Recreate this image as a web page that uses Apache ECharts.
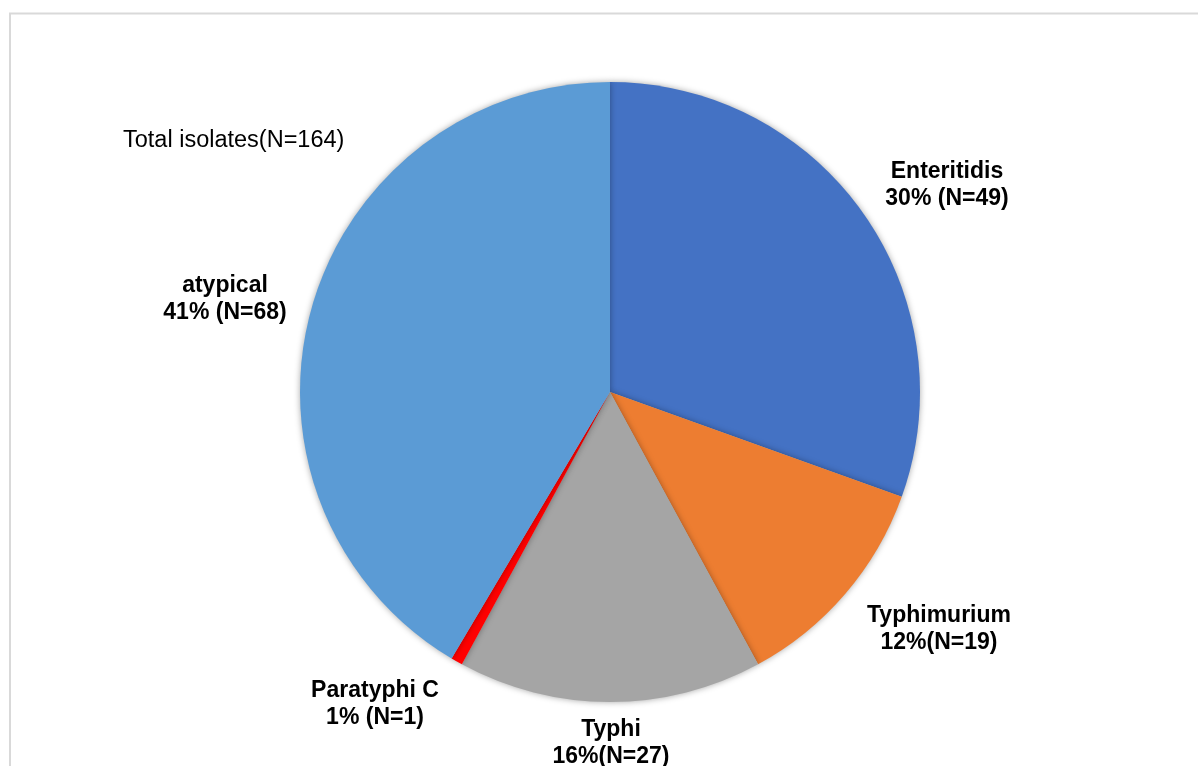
<!DOCTYPE html>
<html>
<head>
<meta charset="utf-8">
<script src="https://cdn.jsdelivr.net/npm/echarts@6/dist/echarts.min.js"></script>
<style>
html,body{margin:0;padding:0;background:#fff;}
#chart{width:1198px;height:766px;}
</style>
</head>
<body>
<div id="chart"></div>
<script>
var categories = ['Enteritidis', 'Typhimurium', 'Typhi', 'Paratyphi C', 'atypical'];
var sliceValues = [50, 19, 26, 1, 68];
// counts as printed in the labels
var labelCounts = [49, 19, 27, 1, 68];
var separators = [' ', '', '', ' ', ' '];
var colors = ['#4472C4', '#ED7D31', '#A5A5A5', '#FF0000', '#5B9BD5'];
var totalLabel = 'Total isolates(N=164)';

// label anchor positions (layout only)
var labelPos = [
  [947, 185],
  [939, 629],
  [611, 743],
  [375, 704],
  [225, 299]
];

var chart = echarts.init(document.getElementById('chart'), null, {renderer: 'canvas'});
var FONT = 'Arial, "Liberation Sans", sans-serif';

var data = categories.map(function (c, i) {
  return { name: c, value: sliceValues[i], itemStyle: { color: colors[i] } };
});

chart.setOption({
  animation: false,
  backgroundColor: '#ffffff',
  graphic: [
    {
      type: 'rect',
      shape: { x: 10, y: 13.5, width: 1200, height: 800 },
      style: { fill: 'none', stroke: '#d9d9d9', lineWidth: 2 },
      z: -1
    },
    {
      type: 'text',
      left: 123,
      top: 129,
      style: {
        text: totalLabel,
        fontFamily: FONT,
        fontSize: 23.5,
        fill: '#000000'
      }
    }
  ],
  series: [{
    type: 'pie',
    center: [610, 392],
    radius: [0, 310],
    startAngle: 90,
    clockwise: true,
    avoidLabelOverlap: false,
    percentPrecision: 0,
    data: data,
    itemStyle: {
      shadowBlur: 6,
      shadowColor: 'rgba(0,0,0,0.35)'
    },
    label: {
      show: true,
      position: 'outside',
      fontFamily: FONT,
      fontSize: 23,
      fontWeight: 'bold',
      color: '#000000',
      lineHeight: 27,
      align: 'center',
      formatter: function (p) {
        var i = p.dataIndex;
        return p.name + '\n' + p.percent + '%' + separators[i] + '(N=' + labelCounts[i] + ')';
      }
    },
    labelLine: { show: false },
    labelLayout: function (params) {
      var pos = labelPos[params.dataIndex];
      return {
        x: pos[0],
        y: pos[1],
        align: 'center',
        verticalAlign: 'middle',
        hideOverlap: false
      };
    },
    emphasis: { disabled: true }
  }]
});
</script>
</body>
</html>
